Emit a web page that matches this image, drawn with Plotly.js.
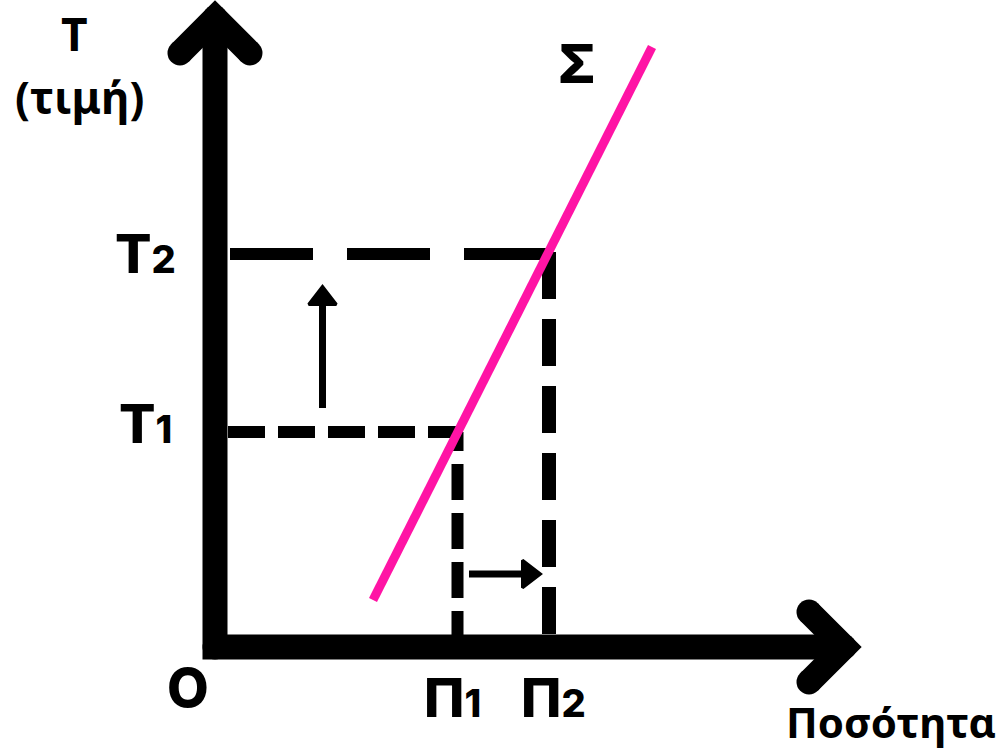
<!DOCTYPE html>
<html>
<head>
<meta charset="utf-8">
<script src="https://cdn.plot.ly/plotly-3.0.1.min.js"></script>
<style>
  html, body { margin: 0; padding: 0; background: #fff; }
  #myDiv { width: 997px; height: 751px; }
</style>
</head>
<body>
<div id="myDiv"></div>
<script>
// values (1 unit = 10 px, origin at the axes corner)
var quantity = [24.25, 33.4];      // Π1, Π2
var price = [21.5, 39.3];          // Τ1, Τ2
var qLabels = ['Π', 'Π'];
var pLabels = ['Τ', 'Τ'];
var subs = ['1', '2'];
var supplyQ = [15.8, 43.7];
var supplyP = [4.7, 60.0];
var axisEnd = [62.9, 62.9];        // x tip, y tip
var shiftUp = [10.75, 23.9, 34.85];   // x, from, to
var shiftRight = [7.3, 25.4, 31.35];  // y, from, to

var edge = 1.3;   // half of the axis thickness
var head = 3.5;

var ink = '#000';
var pink = '#ff14a5';

// thick axes with chevron heads, markers round off the joins
var axes = {
  x: [axisEnd[0] - head, axisEnd[0], axisEnd[0] - head, null,
      axisEnd[0], 0, 0, null,
      -head, 0, head],
  y: [head, 0, -head, null,
      0, 0, axisEnd[1], null,
      axisEnd[1] - head, axisEnd[1], axisEnd[1] - head],
  mode: 'lines+markers',
  type: 'scatter',
  line: {color: ink, width: 25},
  marker: {color: ink, size: 25, line: {width: 0}},
  connectgaps: false,
  hoverinfo: 'skip'
};

function dashed(xs, ys, dash, w) {
  return {
    x: xs, y: ys,
    mode: 'lines', type: 'scatter',
    line: {color: ink, width: w, dash: dash},
    hoverinfo: 'skip'
  };
}

var t1h = dashed([edge, quantity[0] + 0.5], [price[0], price[0]], '37px,13px', 12);
var p1v = dashed([quantity[0], quantity[0]], [0, price[0]], '36px,13px', 12);
var t2h = dashed([edge + 0.2, quantity[1]], [price[1], price[1]], '83px,34px', 12);
var p2v = dashed([quantity[1], quantity[1]], [edge, price[1] + 0.6], '47px,20px', 14);

var supply = {
  x: supplyQ, y: supplyP,
  mode: 'lines', type: 'scatter',
  line: {color: pink, width: 9},
  hoverinfo: 'skip'
};

function arrowMarker(sym) {
  return {symbol: sym, size: [0, 24], color: ink, opacity: 1,
          line: {color: ink, width: 3}};
}

var upArrow = {
  x: [shiftUp[0], shiftUp[0]], y: [shiftUp[1], shiftUp[2]],
  mode: 'lines+markers', type: 'scatter',
  line: {color: ink, width: 7},
  marker: arrowMarker('triangle-up'),
  opacity: 1,
  hoverinfo: 'skip'
};

var rightArrow = {
  x: [shiftRight[1], shiftRight[2]], y: [shiftRight[0], shiftRight[0]],
  mode: 'lines+markers', type: 'scatter',
  line: {color: ink, width: 7},
  marker: arrowMarker('triangle-right'),
  opacity: 1,
  hoverinfo: 'skip'
};

var data = [t1h, p1v, t2h, p2v, supply, upArrow, rightArrow, axes];

var geo = {family: 'Inter, Roboto, sans-serif', size: 54, color: ink, weight: 800};
var sans = {family: '"Noto Sans", "Open Sans", sans-serif', size: 42, color: ink, weight: 700};
var sansTitle = {family: '"Noto Sans", "Open Sans", sans-serif', size: 44, color: ink, weight: 700};
var sansBig = {family: '"Open Sans", "Noto Sans", sans-serif', size: 46, color: ink, weight: 700};

function label(x, y, text, font, ys) {
  return {x: x, y: y, text: text, showarrow: false, font: font,
          xanchor: 'center', yanchor: 'middle', yshift: ys || 0};
}
function withSub(c, d) {
  return c + '<span style="font-size:38px">' + d + '</span>';
}

var annotations = [
  label(-14.1, 61.4, 'T', sansBig),
  label(-13.6, 55.0, '(τιμή)', sansTitle),
  label(36.2, 58.4, 'Σ', geo),
  label(-7.0, price[0], withSub(pLabels[0], subs[0]), geo, 9),
  label(-7.0, price[1], withSub(pLabels[1], subs[1]), geo, 1),
  label(-2.7, -4.0, 'O', geo),
  label(quantity[0] - 0.5, -5.0, withSub(qLabels[0], subs[0]), geo),
  label(quantity[1] + 0.4, -5.0, withSub(qLabels[1], subs[1]), geo),
  label(67.6, -7.4, 'Ποσότητα', sans)
];

var layout = {
  width: 997,
  height: 751,
  margin: {l: 0, r: 0, t: 0, b: 0},
  paper_bgcolor: '#fff',
  plot_bgcolor: '#fff',
  showlegend: false,
  xaxis: {range: [-21.5, 78.2], visible: false, fixedrange: true},
  yaxis: {range: [-10.4, 64.7], visible: false, fixedrange: true},
  annotations: annotations
};

Plotly.newPlot('myDiv', data, layout, {staticPlot: true});
</script>
</body>
</html>
